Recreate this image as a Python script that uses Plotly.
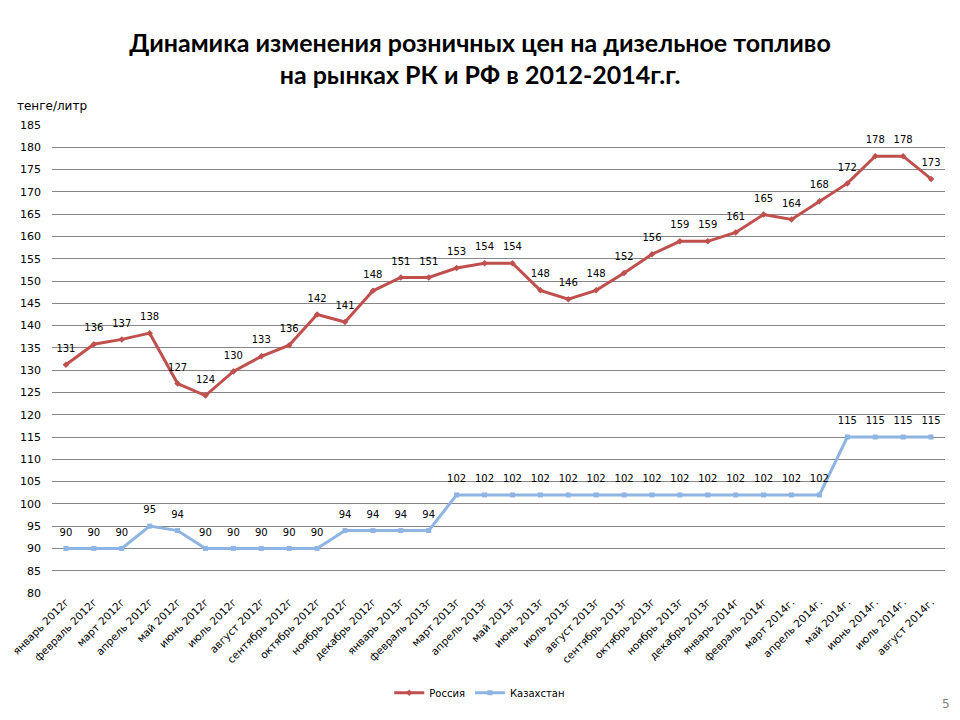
import plotly.graph_objects as go

months = ["январь 2012г", "февраль 2012г", "март 2012г", "апрель 2012г", "май 2012г",
          "июнь 2012г", "июль 2012г", "август 2012г", "сентябрь 2012г", "октябрь 2012г",
          "ноябрь 2012г", "декабрь 2012г", "январь 2013г", "февраль 2013г", "март 2013г",
          "апрель 2013г", "май 2013г", "июнь 2013г", "июль 2013г", "август 2013г",
          "сентябрь 2013г", "октябрь 2013г", "ноябрь 2013г", "декабрь 2013г", "январь 2014г",
          "февраль 2014г", "март 2014г.", "апрель 2014г.", "май 2014г.", "июнь 2014г.",
          "июль 2014г.", "август 2014г."]

russia = [131.2, 135.8, 136.9, 138.3, 127.0, 124.3, 129.7, 133.1, 135.6, 142.5, 140.8,
          147.8, 150.8, 150.8, 152.9, 154.0, 154.0, 147.9, 145.9, 147.9, 151.8, 156.0,
          158.9, 158.9, 160.9, 164.9, 163.8, 167.9, 171.9, 178.0, 178.0, 172.9]

kazakhstan = [90, 90, 90, 95, 94, 90, 90, 90, 90, 90, 94, 94, 94, 94, 102, 102, 102, 102,
              102, 102, 102, 102, 102, 102, 102, 102, 102, 102, 115, 115, 115, 115]

y_ticks = list(range(80, 186, 5))

label_font = dict(family="DejaVu Sans", size=10, color="#000000")
xs = list(range(len(months)))

fig = go.Figure()
for name, vals, color, sym in [("Россия", russia, "#C0504D", "diamond"),
                               ("Казахстан", kazakhstan, "#8EB4E3", "square")]:
    fig.add_trace(go.Scatter(
        x=xs, y=vals, name=name, mode="lines+markers",
        line=dict(color=color, width=3),
        marker=dict(symbol=sym, size=5, color=color),
    ))
for vals in (russia, kazakhstan):
    fig.add_trace(go.Scatter(
        x=xs, y=vals, mode="markers+text", showlegend=False, hoverinfo="skip",
        marker=dict(size=15, color="rgba(0,0,0,0)"),
        text=[f"{v:.0f}" for v in vals], textposition="top center",
        textfont=label_font, cliponaxis=False,
    ))

fig.update_layout(
    width=960, height=720,
    paper_bgcolor="white", plot_bgcolor="white",
    margin=dict(l=52, r=15, t=125, b=127, autoexpand=False),
    title=dict(
        text="<b>Динамика изменения розничных цен на дизельное топливо<br>на рынках РК и РФ в 2012-2014г.г.</b>",
        x=0.5, xanchor="center", y=0.928, yanchor="top",
        font=dict(family="Lato", size=25, color="#000000"),
    ),
    xaxis=dict(
        range=[-0.5, len(months) - 0.5], automargin=False,
        tickmode="array", tickvals=xs, ticktext=months,
        tickangle=-45, tickfont=dict(family="DejaVu Sans", size=10.5, color="#000000"),
        showgrid=False, zeroline=False, showline=False, ticks="",
    ),
    yaxis=dict(
        range=[80, 185], tickmode="array", tickvals=y_ticks, automargin=False,
        tickfont=dict(family="DejaVu Sans", size=11, color="#000000"),
        showgrid=True, gridcolor="#868686", gridwidth=1, zeroline=False,
        showline=False, ticks="", ticklabelstandoff=10,
    ),
    legend=dict(
        orientation="h", x=0.479, xanchor="center", y=-0.182, yanchor="top",
        font=dict(family="DejaVu Sans", size=10, color="#000000"),
    ),
    showlegend=True,
)

fig.add_annotation(text="тенге/литр", xref="paper", yref="paper", x=-37/893, y=1.0,
                   xanchor="left", yanchor="bottom", yshift=10, showarrow=False,
                   font=dict(family="DejaVu Sans", size=12, color="#000000"))
fig.add_annotation(text="5", xref="paper", yref="paper", x=1.0, y=0, xanchor="center",
                   yanchor="middle", showarrow=False, xshift=1, yshift=-111,
                   font=dict(family="DejaVu Sans", size=12, color="#808080"))

fig.write_html("out.html", config={"displayModeBar": False},
               post_script="document.body.style.margin='0';")
